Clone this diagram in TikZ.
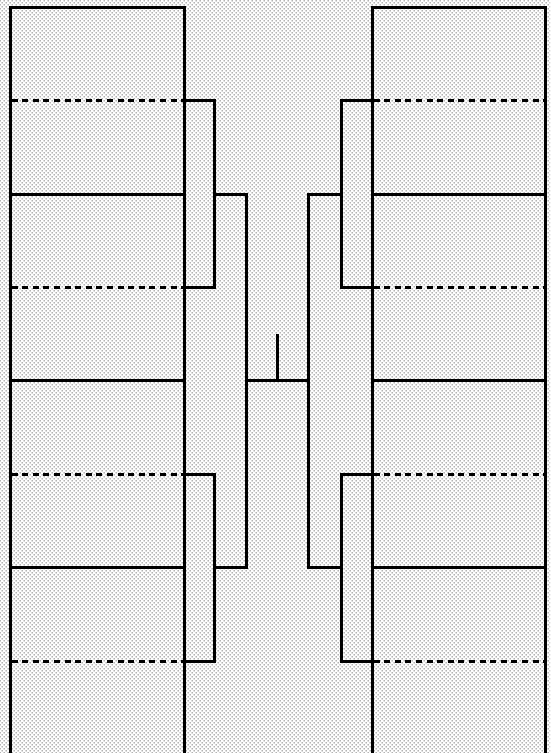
\documentclass[tikz,border=0pt]{standalone}
\usetikzlibrary{patterns}
\pgfdeclarepatternformonly{stipple}{\pgfqpoint{-1pt}{-1pt}}{\pgfqpoint{5pt}{5pt}}{\pgfqpoint{4pt}{4pt}}{%
  \pgfpathrectangle{\pgfqpoint{-0.5pt}{-0.5pt}}{\pgfqpoint{1pt}{1pt}}%
  \pgfpathrectangle{\pgfqpoint{1.5pt}{1.5pt}}{\pgfqpoint{1pt}{1pt}}%
  \pgfusepath{fill}}
\begin{document}
\begin{tikzpicture}[x=1pt,y=-1pt,
  half/.style={line width=3pt,black,dash pattern=on 6pt off 4.6pt},
  full/.style={line width=3pt,black}]
\useasboundingbox (0,0) rectangle (550,753);
\fill[pattern=stipple,pattern color=black!70] (0,0) rectangle (550,753);
% columns
\draw[full] (10,753) -- (10,7) -- (184,7) -- (184,753);
\draw[full] (372,753) -- (372,7) -- (545,7) -- (545,753);
% floor lines
\foreach \y in {100,287,474,661}{
  \draw[half] (11.5,\y) -- (182.5,\y);
  \draw[half] (373.5,\y) -- (543.5,\y);
}
\foreach \y in {194,380,567}{
  \draw[full] (10,\y) -- (184,\y);
  \draw[full] (372,\y) -- (545,\y);
}
% left brackets
\draw[full] (184,100) -- (214,100) -- (214,287) -- (184,287);
\draw[full] (184,474) -- (214,474) -- (214,661) -- (184,661);
\draw[full] (214,194) -- (246,194) -- (246,567) -- (214,567);
% right brackets
\draw[full] (372,100) -- (341,100) -- (341,287) -- (372,287);
\draw[full] (372,474) -- (341,474) -- (341,661) -- (372,661);
\draw[full] (341,194) -- (308,194) -- (308,567) -- (341,567);
% middle
\coordinate (root) at (277,380);
\draw[full] (246,380) -- (308,380);
\draw[full] (root) -- (277,334);
\end{tikzpicture}
\end{document}
